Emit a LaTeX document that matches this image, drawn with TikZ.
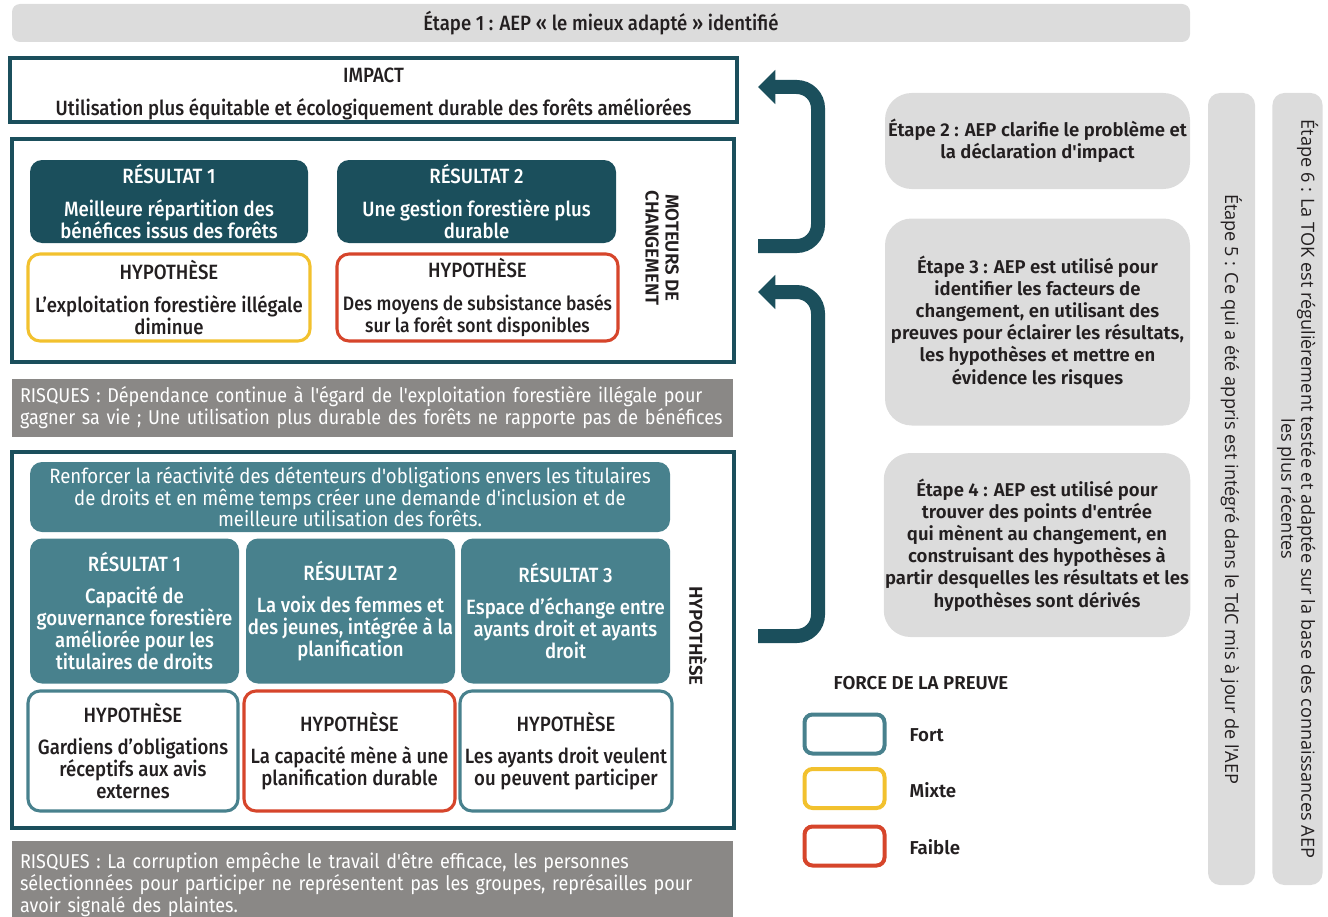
\documentclass[tikz,border=0pt]{standalone}
\usepackage{fontspec}
\setmainfont{Fira Sans}
\newfontfamily\condmed{Fira Sans Medium}[FakeStretch=0.9]
\newfontfamily\condreg{Fira Sans}[FakeStretch=0.9]
\newfontfamily\semib{Fira Sans SemiBold}
\newfontfamily\opens{Open Sans}
\usetikzlibrary{arrows.meta}

\definecolor{tealdark}{HTML}{1B4F5C}
\definecolor{teallight}{HTML}{48818D}
\definecolor{riskgray}{HTML}{8A8886}
\definecolor{stepgray}{HTML}{DCDCDC}
\definecolor{mixyellow}{HTML}{F2C12E}
\definecolor{weakred}{HTML}{D6452B}
\definecolor{inkdark}{HTML}{231F20}

\tikzset{
  sz/.style 2 args={minimum width=#1*0.75pt, minimum height=#2*0.75pt},
  tealframe/.style={draw=tealdark, line width=2.3pt},
  resdark/.style={fill=tealdark, rounded corners=9pt, text=white, align=center, inner xsep=1pt,
    font=\condmed\fontsize{15.5}{16.6}\selectfont},
  reslight/.style={resdark, fill=teallight},
  hyp/.style={draw=#1, line width=2.3pt, fill=white, rounded corners=9pt, align=center,
    inner xsep=1pt, text=inkdark, font=\condmed\fontsize{15.5}{16.6}\selectfont},
  risk/.style={fill=riskgray, text=white, align=left, inner xsep=6pt,
    text width=705*0.75pt, font=\condreg\fontsize{15}{16.5}\selectfont},
  stepbox/.style={fill=stepgray, rounded corners=20pt, align=center, text=inkdark,
    inner xsep=1pt, font=\semib\fontsize{13.9}{16.6}\selectfont},
  stepv/.style={fill=stepgray, rounded corners=9pt, text=inkdark, align=center,
    rotate=-90, font=\opens\fontsize{13.6}{15}\selectfont},
  sidelabel/.style={rotate=-90, align=center, text=inkdark,
    font=\semib\fontsize{14}{15}\selectfont},
  loop/.style={draw=tealdark, line width=10.5pt, rounded corners=16pt,
    -{Triangle[length=13pt,width=25pt]}},
  legendbox/.style={draw=#1, line width=3pt, rounded corners=6pt, sz={80}{39}},
  legendtext/.style={anchor=west, text=inkdark, font=\semib\fontsize{14}{15}\selectfont},
}

\begin{document}
\begin{tikzpicture}[x=0.75pt, y=-0.75pt]
\useasboundingbox (0,0) rectangle (1328,917);

% etape 1
\node[fill=stepgray, rounded corners=6pt, sz={1178}{38}, text=inkdark,
  font=\condmed\fontsize{15.5}{16}\selectfont] (step1) at (601,23)
  {Étape 1 : AEP « le mieux adapté » identifié};

% impact
\node[tealframe, sz={727}{64}] (impact) at (373.5,90) {};
\node[align=center, text=inkdark, font=\condmed\fontsize{15.5}{16.6}\selectfont]
  (impacttext) at (373.5,94)
  {IMPACT\\[7.5pt]Utilisation plus équitable et écologiquement durable des forêts améliorées};

% moteurs de changement
\node[tealframe, sz={722}{223}] (drivers) at (373,250.5) {};
\node[resdark, sz={278}{83}] (resA) at (169,201.5)
  {RÉSULTAT 1\\[7.5pt]Meilleure répartition des\\bénéfices issus des forêts};
\node[resdark, sz={279}{83}] (resB) at (476.5,201.5)
  {RÉSULTAT 2\\[7.5pt]Une gestion forestière plus\\durable};
\node[hyp=mixyellow, sz={282}{87}] (hypA) at (169,297.5)
  {HYPOTHÈSE\\[7.5pt]L’exploitation forestière illégale\\diminue};
\node[hyp=weakred, sz={281}{87}, font=\condmed\fontsize{14.6}{16.6}\selectfont] (hypB) at (477.5,297.5)
  {\fontsize{15.5}{16.6}\selectfont HYPOTHÈSE\\[7.5pt]Des moyens de subsistance basés\\sur la forêt sont disponibles};
\node[sidelabel] (drvlabel) at (662,248) {MOTEURS DE\\CHANGEMENT};

\node[risk, sz={721}{58}] (riskA) at (372.5,408)
  {RISQUES : Dépendance continue à l'égard de l'exploitation forestière illégale pour\\
   gagner sa vie ; Une utilisation plus durable des forêts ne rapporte pas de bénéfices};

% hypothese
\node[tealframe, sz={722}{376}] (hypframe) at (373,640) {};
\node[reslight, sz={640}{70}, font=\condreg\fontsize{15.5}{16.2}\selectfont] (goal) at (350,497)
  {Renforcer la réactivité des détenteurs d'obligations envers les titulaires\\
   de droits et en même temps créer une demande d'inclusion et de\\
   meilleure utilisation des forêts.};
\node[reslight, sz={209}{145}] (resC) at (134.5,611)
  {RÉSULTAT 1\\[7.5pt]Capacité de\\gouvernance forestière\\améliorée pour les\\titulaires de droits};
\node[reslight, sz={209}{145}] (resD) at (350.5,611)
  {RÉSULTAT 2\\[7.5pt]La voix des femmes et\\des jeunes, intégrée à la\\planification};
\node[reslight, sz={209}{145}] (resE) at (565.5,611)
  {RÉSULTAT 3\\[7.5pt]Espace d’échange entre\\ayants droit et ayants\\droit};
\node[hyp=teallight, sz={210}{120}] (hypC) at (133,751)
  {HYPOTHÈSE\\[7.5pt]Gardiens d’obligations\\réceptifs aux avis\\externes};
\node[hyp=weakred, sz={211}{120}] (hypD) at (349.5,751)
  {HYPOTHÈSE\\[7.5pt]La capacité mène à une\\planification durable};
\node[hyp=teallight, sz={212}{120}] (hypE) at (566,751)
  {HYPOTHÈSE\\[7.5pt]Les ayants droit veulent\\ou peuvent participer};
\node[sidelabel] (hyplabel) at (698,636) {HYPOTHÈSE};

\node[risk, sz={721}{87}] (riskB) at (372.5,884.5)
  {RISQUES : La corruption empêche le travail d'être efficace, les personnes\\
   sélectionnées pour participer ne représentent pas les groupes, représailles pour\\
   avoir signalé des plaintes.};

% retours
\coordinate (loopAin) at (758,246);
\coordinate (loopAout) at (758,87);
\coordinate (loopBin) at (758,636);
\coordinate (loopBout) at (758,292);
\draw[loop] (loopAin) -- (818,246) -- (818,87) -- (loopAout);
\draw[loop] (loopBin) -- (818,636) -- (818,292) -- (loopBout);

% etapes
\node[stepbox, sz={305}{96}] (step2) at (1037.5,141)
  {Étape 2 : AEP clarifie le problème et\\la déclaration d'impact};
\node[stepbox, sz={305}{207}] (step3) at (1037.5,322)
  {Étape 3 : AEP est utilisé pour\\identifier les facteurs de\\changement, en utilisant des\\
   preuves pour éclairer les résultats,\\les hypothèses et mettre en\\évidence les risques};
\node[stepbox, sz={306}{184}] (step4) at (1037,545)
  {Étape 4 : AEP est utilisé pour\\trouver des points d'entrée\\qui mènent au changement, en\\
   construisant des hypothèses à\\partir desquelles les résultats et les\\hypothèses sont dérivés};
\node[stepv, sz={792}{47}] (step5) at (1231.5,489)
  {Étape 5 : Ce qui a été appris est intégré dans le TdC mis à jour de l'AEP};
\node[stepv, sz={792}{49}] (step6) at (1297.5,489)
  {Étape 6 : La TOK est régulièrement testée et adaptée sur la base des connaissances AEP\\
   les plus récentes};

% legende
\node[text=inkdark, font=\semib\fontsize{14}{15}\selectfont] (legtitle) at (921,683)
  {FORCE DE LA PREUVE};
\node[legendbox=teallight] (legA) at (844.5,734) {};
\node[legendbox=mixyellow] (legB) at (844.5,788.5) {};
\node[legendbox=weakred] (legC) at (844.5,846) {};
\node[legendtext] (legAt) at (905,735) {Fort};
\node[legendtext] (legBt) at (905,790) {Mixte};
\node[legendtext] (legCt) at (905,847) {Faible};
\end{tikzpicture}
\end{document}
